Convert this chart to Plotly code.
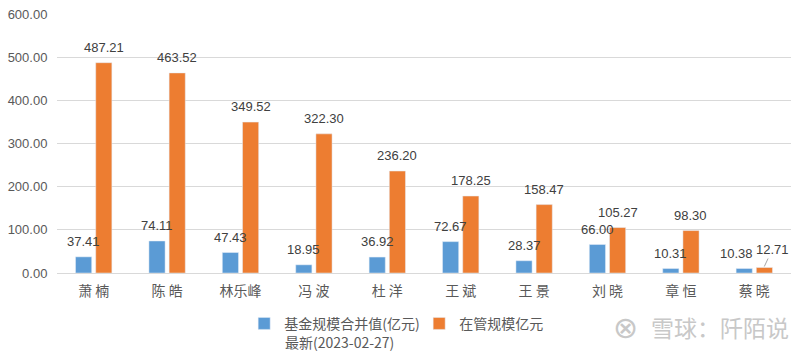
import plotly.graph_objects as go

categories = ["萧 楠", "陈 皓", "林乐峰", "冯 波", "杜 洋", "王 斌", "王 景", "刘 晓", "章 恒", "蔡 晓"]
fund_merged = [37.41, 74.11, 47.43, 18.95, 36.92, 72.67, 28.37, 66.00, 10.31, 10.38]
managed = [487.21, 463.52, 349.52, 322.30, 236.20, 178.25, 158.47, 105.27, 98.30, 12.71]
yticks = [0, 100, 200, 300, 400, 500, 600]
ytick_labels = ["0.00", "100.00", "200.00", "300.00", "400.00", "500.00", "600.00"]
series_names = ["基金规模合并值(亿元)", "在管规模亿元"]
legend_note = "最新(2023-02-27)"

num_font = "Liberation Sans, Arial, sans-serif"
cjk_font = "Noto Sans CJK SC, sans-serif"
label_color = "#404040"

fig = go.Figure()
fig.add_trace(go.Bar(x=categories, y=fund_merged, name=series_names[0], marker_color="#5B9BD5"))
fig.add_trace(go.Bar(x=categories, y=managed, name=series_names[1], marker_color="#ED7D31"))

# data labels as annotations (drawn above all bars)
n = len(categories)
for i, (c, v) in enumerate(zip(categories, fund_merged)):
    last = i == n - 1
    fig.add_annotation(x=c, y=v, text=f"{v:.2f}", showarrow=False, xanchor="center", yanchor="bottom",
                       xshift=-10 - (8 if last else 0), yshift=6,
                       font=dict(size=13, color=label_color, family=num_font))
for i, (c, v) in enumerate(zip(categories, managed)):
    last = i == n - 1
    if last:
        fig.add_annotation(x=c, y=v, text=f"{v:.2f}", showarrow=True, arrowhead=0, arrowwidth=1,
                           arrowcolor="#A6A6A6", ax=8, ay=-17, xshift=10, yshift=1, standoff=0,
                           font=dict(size=13, color=label_color, family=num_font))
    else:
        fig.add_annotation(x=c, y=v, text=f"{v:.2f}", showarrow=False, xanchor="center", yanchor="bottom",
                           xshift=10, yshift=6,
                           font=dict(size=13, color=label_color, family=num_font))

fig.update_layout(
    width=800, height=353,
    margin=dict(l=57, r=9, t=14, b=80, autoexpand=False),
    paper_bgcolor="white", plot_bgcolor="white",
    barmode="group", bargap=0.45, bargroupgap=0.2,
    font=dict(family=cjk_font, color="#595959"),
    showlegend=True,
    legend=dict(orientation="h", x=0.255, xanchor="left", y=0.128, yanchor="top",
                yref="container",
                font=dict(size=14, color="#595959", family=cjk_font),
                valign="top", itemwidth=30, traceorder="normal",
                entrywidth=130, tracegroupgap=0, bgcolor="rgba(0,0,0,0)"),
    xaxis=dict(showgrid=False, showline=False, ticks="outside", ticklen=5,
               tickcolor="rgba(0,0,0,0)", tickfont=dict(size=14, color="#595959", family=cjk_font)),
    yaxis=dict(range=[0, 600], tickvals=yticks, ticktext=ytick_labels,
               showgrid=True, gridcolor="#D9D9D9", gridwidth=1,
               zeroline=True, zerolinecolor="#D9D9D9", zerolinewidth=1,
               showline=False, ticks="outside", ticklen=6, tickcolor="rgba(0,0,0,0)",
               tickfont=dict(size=13, color="#595959", family=num_font)),
)

# second line of the first legend entry
fig.add_annotation(text=legend_note, xref="paper", yref="paper", x=(284 - 57) / 734, y=(273 - 342) / 259,
                   xanchor="left", yanchor="middle", showarrow=False, borderpad=0,
                   font=dict(size=14, color="#595959", family=cjk_font))

# watermark
fig.add_annotation(text="雪球：阡陌说", xref="paper", yref="paper", x=1.0, y=-0.2085,
                   xanchor="right", yanchor="middle", showarrow=False,
                   font=dict(size=23, color="#C8C8C8", family=cjk_font))
fig.add_annotation(text="⊗", xref="paper", yref="paper", x=0.775, y=-0.2085,
                   xanchor="center", yanchor="middle", showarrow=False,
                   font=dict(size=30, color="#C8C8C8", family="DejaVu Sans"))

fig.write_html("out.html")
